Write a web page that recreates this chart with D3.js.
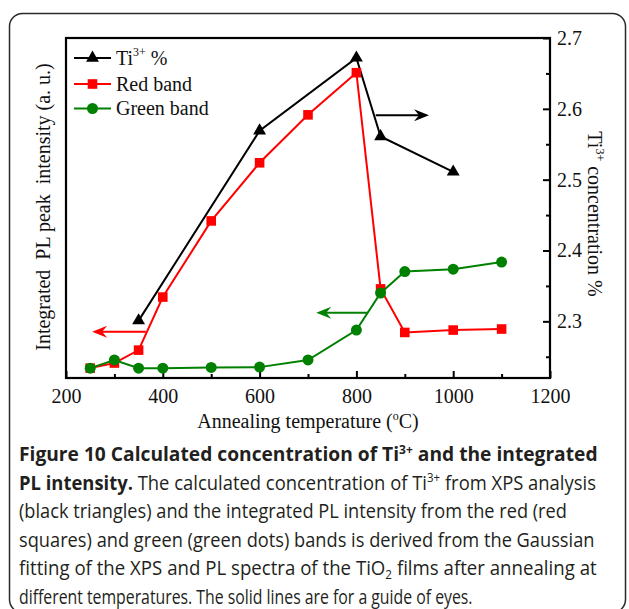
<!DOCTYPE html>
<html>
<head>
<meta charset="utf-8">
<script src="https://cdn.jsdelivr.net/npm/d3@7"></script>
<style>
  body { margin: 0; background: #fff; }
  svg { display: block; }
</style>
</head>
<body>
<script>
// Annealing temperatures (°C) and measured quantities
const tiTemps   = [350, 600, 800, 850, 1000];
const tiConc    = [2.301, 2.569, 2.672, 2.561, 2.511];          // Ti3+ concentration, %
const plTemps   = [250, 300, 350, 400, 500, 600, 700, 800, 850, 900, 1000, 1100];
const redBand   = [2.9, 4.4, 8.2, 23.8, 46.2, 63.3, 77.4, 89.8, 26.2, 13.4, 14.1, 14.4]; // a.u.
const greenBand = [2.9, 5.3, 2.9, 2.9, 3.1, 3.2, 5.3, 14.1, 25.0, 31.3, 32.0, 34.1];     // a.u.

const xTicks      = [200, 400, 600, 800, 1000, 1200];
const xMinorTicks = [300, 500, 700, 900, 1100];
const rTicks      = [2.3, 2.4, 2.5, 2.6, 2.7];
const rMinorTicks = [2.25, 2.35, 2.45, 2.55, 2.65];

// Guide arrows pointing each series to its axis (data coordinates)
const guideArrows = [
  { axis: "right", x0: 840, x1: 950, y: 2.591, color: "#000" },
  { axis: "left",  x0: 365, x1: 254, y: 13.6,  color: "#ff0000" },
  { axis: "left",  x0: 824, x1: 717, y: 19.2,  color: "#008000" }
];

const captionLines = [
  [{t: "Figure 10 Calculated concentration of Ti", b: 1}, {t: "3+", b: 1, s: "sup"}, {t: " and the integrated", b: 1}],
  [{t: "PL intensity.", b: 1}, {t: " The calculated concentration of Ti"}, {t: "3+", s: "sup"}, {t: " from XPS analysis"}],
  [{t: "(black triangles) and the integrated PL intensity from the red (red"}],
  [{t: "squares) and green (green dots) bands is derived from the Gaussian"}],
  [{t: "fitting of the XPS and PL spectra of the TiO"}, {t: "2", s: "sub"}, {t: " films after annealing at"}],
  [{t: "different temperatures. The solid lines are for a guide of eyes."}]
];
const captionWidths = [579, 577, 548, 576, 578, 454];

const W = 629, H = 609;
const plot = { left: 66, right: 550, top: 38, bottom: 378 };
const serif = "'Liberation Serif', 'Times New Roman', serif";

const svg = d3.select("body").append("svg").attr("width", W).attr("height", H);

// outer panel
svg.append("rect")
  .attr("x", 9.5).attr("y", 13.5).attr("width", 616).attr("height", 599)
  .attr("rx", 13).attr("fill", "none").attr("stroke", "#2a2a2a").attr("stroke-width", 1.5);

const x  = d3.scaleLinear().domain([200, 1200]).range([plot.left, plot.right]);
const yL = d3.scaleLinear().domain([0, 100]).range([plot.bottom, plot.top]);
const yR = d3.scaleLinear().domain([2.22, 2.70]).range([plot.bottom, plot.top]);

// bottom axis (ticks point inward)
svg.append("g").attr("transform", `translate(0,${plot.bottom})`)
  .call(d3.axisBottom(x).tickValues(xTicks).tickSizeInner(-7).tickSizeOuter(0).tickPadding(10.5).tickFormat(d3.format("d")));
svg.append("g").attr("transform", `translate(0,${plot.bottom})`)
  .call(d3.axisBottom(x).tickValues(xMinorTicks).tickSizeInner(-4).tickSizeOuter(0).tickFormat(""));

// right axis
svg.append("g").attr("transform", `translate(${plot.right},0)`)
  .call(d3.axisRight(yR).tickValues(rTicks).tickSizeInner(-7).tickSizeOuter(0).tickPadding(7).tickFormat(d3.format(".1f")));
svg.append("g").attr("transform", `translate(${plot.right},0)`)
  .call(d3.axisRight(yR).tickValues(rMinorTicks).tickSizeInner(-4).tickSizeOuter(0).tickFormat(""));

svg.selectAll(".domain").remove();
svg.selectAll(".tick line").attr("stroke", "#000").attr("stroke-width", 2);
svg.selectAll(".tick text").attr("font-family", serif).attr("font-size", 20).attr("fill", "#111");

// frame
svg.append("rect")
  .attr("x", plot.left).attr("y", plot.top)
  .attr("width", plot.right - plot.left).attr("height", plot.bottom - plot.top)
  .attr("fill", "none").attr("stroke", "#000").attr("stroke-width", 2.2);

// axis titles
const xt = svg.append("text").attr("x", (plot.left + plot.right) / 2).attr("y", 428)
  .attr("text-anchor", "middle").attr("font-family", serif).attr("font-size", 20).attr("fill", "#111");
xt.append("tspan").text("Annealing temperature (");
xt.append("tspan").attr("font-size", 12).attr("dy", -8).text("o");
xt.append("tspan").attr("dy", 8).text("C)");

svg.append("text")
  .attr("transform", "translate(50,207) rotate(-90)")
  .attr("text-anchor", "middle").attr("font-family", serif).attr("font-size", 20).attr("fill", "#111")
  .style("white-space", "pre")
  .text("Integrated  PL peak  intensity (a. u.)");

const rt = svg.append("text")
  .attr("transform", "translate(588,214) rotate(90)")
  .attr("text-anchor", "middle").attr("font-family", serif).attr("font-size", 20).attr("fill", "#111");
rt.append("tspan").text("Ti");
rt.append("tspan").attr("font-size", 12).attr("dy", -8).text("3+");
rt.append("tspan").attr("dy", 8).text(" concentration %");

// series
const tiData    = tiTemps.map((t, i) => ({ t, v: tiConc[i] }));
const redData   = plTemps.map((t, i) => ({ t, v: redBand[i] }));
const greenData = plTemps.map((t, i) => ({ t, v: greenBand[i] }));

const triangle = d3.symbol(d3.symbolTriangle, 72);
const square   = d3.symbol(d3.symbolSquare, 92);

function drawSeries(data, yScale, color, marker) {
  svg.append("path").datum(data)
    .attr("fill", "none").attr("stroke", color).attr("stroke-width", 2)
    .attr("d", d3.line().x(d => x(d.t)).y(d => yScale(d.v)));
  const g = svg.append("g");
  if (marker === "circle") {
    g.selectAll("circle").data(data).join("circle")
      .attr("cx", d => x(d.t)).attr("cy", d => yScale(d.v)).attr("r", 5.5).attr("fill", color);
  } else {
    g.selectAll("path").data(data).join("path")
      .attr("transform", d => `translate(${x(d.t)},${yScale(d.v)})`)
      .attr("d", marker === "triangle" ? triangle() : square()).attr("fill", color);
  }
}

drawSeries(tiData, yR, "#000", "triangle");
drawSeries(redData, yL, "#ff0000", "square");
drawSeries(greenData, yL, "#008000", "circle");

// guide arrows
guideArrows.forEach(a => {
  const ys = a.axis === "right" ? yR : yL;
  const X0 = x(a.x0), X1 = x(a.x1), Y = ys(a.y);
  const dir = Math.sign(X1 - X0);
  svg.append("line").attr("x1", X0).attr("x2", X1 - dir * 8).attr("y1", Y).attr("y2", Y)
    .attr("stroke", a.color).attr("stroke-width", 2);
  svg.append("path")
    .attr("d", `M${X1},${Y} L${X1 - dir * 15},${Y - 6} L${X1 - dir * 10},${Y} L${X1 - dir * 15},${Y + 6} Z`)
    .attr("fill", a.color);
});

// legend
const legendRows = [
  { label: "Ti", sup: "3+", tail: " %", color: "#000", marker: "triangle", y: 58 },
  { label: "Red band", color: "#ff0000", marker: "square", y: 84 },
  { label: "Green band", color: "#008000", marker: "circle", y: 108.5 }
];
legendRows.forEach(r => {
  svg.append("line").attr("x1", 74).attr("x2", 111).attr("y1", r.y).attr("y2", r.y)
    .attr("stroke", r.color).attr("stroke-width", 2);
  if (r.marker === "circle") {
    svg.append("circle").attr("cx", 92.5).attr("cy", r.y).attr("r", 5.5).attr("fill", r.color);
  } else {
    svg.append("path").attr("transform", `translate(92.5,${r.y})`)
      .attr("d", r.marker === "triangle" ? triangle() : square()).attr("fill", r.color);
  }
  const t = svg.append("text").attr("x", 116).attr("y", r.y + 6.7)
    .attr("font-family", serif).attr("font-size", 20).attr("fill", "#111");
  t.append("tspan").text(r.label);
  if (r.sup) {
    t.append("tspan").attr("font-size", 12).attr("dy", -9).text(r.sup);
    t.append("tspan").attr("dy", 9).text(r.tail);
  }
});

// caption: each line is set in Open Sans, then condensed horizontally to its column width
captionLines.forEach((parts, i) => {
  const g = svg.append("g");
  const t = g.append("text").attr("x", 0).attr("y", 0)
    .attr("font-family", "'Open Sans', sans-serif").attr("font-size", 20).attr("fill", "#231f20");
  let shift = 0;
  parts.forEach(p => {
    const sp = t.append("tspan").text(p.t).attr("font-weight", p.b ? 700 : 400);
    let target = 0;
    if (p.s === "sup") { sp.attr("font-size", 12.5); target = -7.5; }
    if (p.s === "sub") { sp.attr("font-size", 12.5); target = 3.5; }
    if (target - shift !== 0) sp.attr("dy", target - shift);
    shift = target;
  });
  const len = t.node().getComputedTextLength();
  const k = captionWidths[i] / len;
  g.attr("transform", `translate(19,${461 + i * 28.5}) scale(${k},1)`);
});
</script>
</body>
</html>
